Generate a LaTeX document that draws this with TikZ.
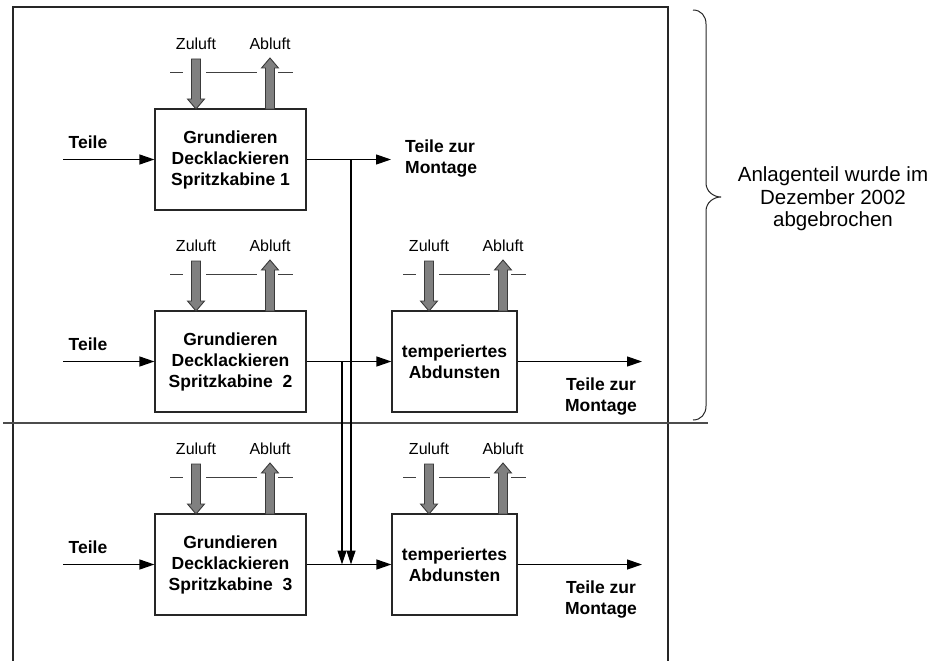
\documentclass[tikz,border=0pt]{standalone}
\usepackage{fontspec}
\setmainfont{Liberation Sans}
\usetikzlibrary{arrows.meta}
\definecolor{ventgray}{HTML}{808080}
\definecolor{ventline}{HTML}{3A3A3A}
\begin{document}
\begin{tikzpicture}[x=1pt,y=-1pt,
  stagebox/.style={draw=black!85, line width=1.2pt, minimum width=151pt, minimum height=101pt,
    inner sep=0pt, align=center, font=\fontsize{17.5}{21}\selectfont\bfseries},
  dryer/.style={stagebox, minimum width=125pt},
  flow/.style={draw=black, line width=1.2pt, -{Triangle[length=15pt,width=10pt]}},
  boldlabel/.style={font=\fontsize{17.5}{21}\selectfont\bfseries, inner sep=0pt},
  airlabel/.style={font=\fontsize{16}{18}\selectfont, inner sep=0pt},
  ventarrow/.style={fill=ventgray, draw=ventline, line width=0.9pt, line join=miter},
  ventrail/.style={draw=black!75, line width=0.9pt},
  vents/.pic={
    % supply air (down) and exhaust air (up) with the duct line between them
    \path[ventrail] (-26,-37) -- (-13,-37) (10,-37) -- (61,-37) (82,-37) -- (97,-37);
    \path[ventarrow] (-4.5,-50) -- (4.5,-50) -- (4.5,-10) -- (8.5,-10) -- (0,0)
      -- (-8.5,-10) -- (-4.5,-10) -- cycle;
    \path[ventarrow] (69.5,0) -- (78.5,0) -- (78.5,-41) -- (82.5,-41) -- (74,-51)
      -- (65.5,-41) -- (69.5,-41) -- cycle;
    \node[airlabel] (-zu) at (0,-65) {Zuluft};
    \node[airlabel] (-ab) at (74,-65) {Abluft};
  }
]
\useasboundingbox (0,0) rectangle (935,661);

% plant frame (open at the bottom) and section divider
\draw[line width=1.2pt, black!85] (13,661) -- (13,7) -- (668,7) -- (668,661);
\draw[line width=1.6pt, black!70] (3,423) -- (708,423);

% painting booths
\node[stagebox] (b1) at (230.5,159.5) {Grundieren\\Decklackieren\\Spritzkabine 1};
\node[stagebox] (b2) at (230.5,361.5) {Grundieren\\Decklackieren\\Spritzkabine\ \ 2};
\node[stagebox] (b3) at (230.5,564.5) {Grundieren\\Decklackieren\\Spritzkabine\ \ 3};

% flash-off zones
\node[dryer] (t2) at (454.5,361.5) {temperiertes\\Abdunsten};
\node[dryer] (t3) at (454.5,564.5) {temperiertes\\Abdunsten};

% ventilation on every unit
\pic (v1) at (196,109) {vents};
\pic (v2) at (196,311) {vents};
\pic (v3) at (196,514) {vents};
\pic (v4) at (429,311) {vents};
\pic (v5) at (429,514) {vents};

% incoming parts
\coordinate (i1) at (63,159.5);
\coordinate (i2) at (63,361.5);
\coordinate (i3) at (63,564.5);
\draw[flow] (i1) -- (b1.west);
\draw[flow] (i2) -- (b2.west);
\draw[flow] (i3) -- (b3.west);
\node[boldlabel] (l1) at (88,142) {Teile};
\node[boldlabel] (l2) at (88,344) {Teile};
\node[boldlabel] (l3) at (88,547) {Teile};

% booth 1 output and bypass down to the lower flash-off zone
\coordinate (o1) at (391,159.5);
\coordinate (j1) at (351,159.5);
\coordinate (k1) at (351,564.5);
\coordinate (j2) at (342,361.5);
\coordinate (k2) at (342,564.5);
\draw[flow] (b1.east) -- (o1);
\draw[flow, -{Triangle[length=14pt,width=9pt]}] (j1) -- (k1);
\draw[flow, -{Triangle[length=14pt,width=9pt]}] (j2) -- (k2);
\node[boldlabel, anchor=west, align=left] (m1) at (405,159) {Teile zur\\Montage};

% booths 2 and 3 into the flash-off zones
\draw[flow] (b2.east) -- (t2.west);
\draw[flow] (b3.east) -- (t3.west);

% flash-off outputs
\coordinate (o2) at (642,361.5);
\coordinate (o3) at (642,564.5);
\draw[flow] (t2.east) -- (o2);
\draw[flow] (t3.east) -- (o3);
\node[boldlabel, align=center] (m2) at (601,397) {Teile zur\\Montage};
\node[boldlabel, align=center] (m3) at (601,600) {Teile zur\\Montage};

% brace marking the dismantled part
\draw[line width=1pt, black!85] (693,10) .. controls (701,10) and (706,16) .. (706,24)
  -- (706,183) .. controls (706,191) and (713,197) .. (721,197)
  .. controls (713,197) and (706,203) .. (706,211)
  -- (706,406) .. controls (706,414) and (701,420) .. (693,420);
\node[font=\fontsize{20.5}{22.5}\selectfont, align=center, inner sep=0pt] (note) at (833,199)
  {Anlagenteil wurde im\\Dezember 2002\\abgebrochen};
\end{tikzpicture}
\end{document}
